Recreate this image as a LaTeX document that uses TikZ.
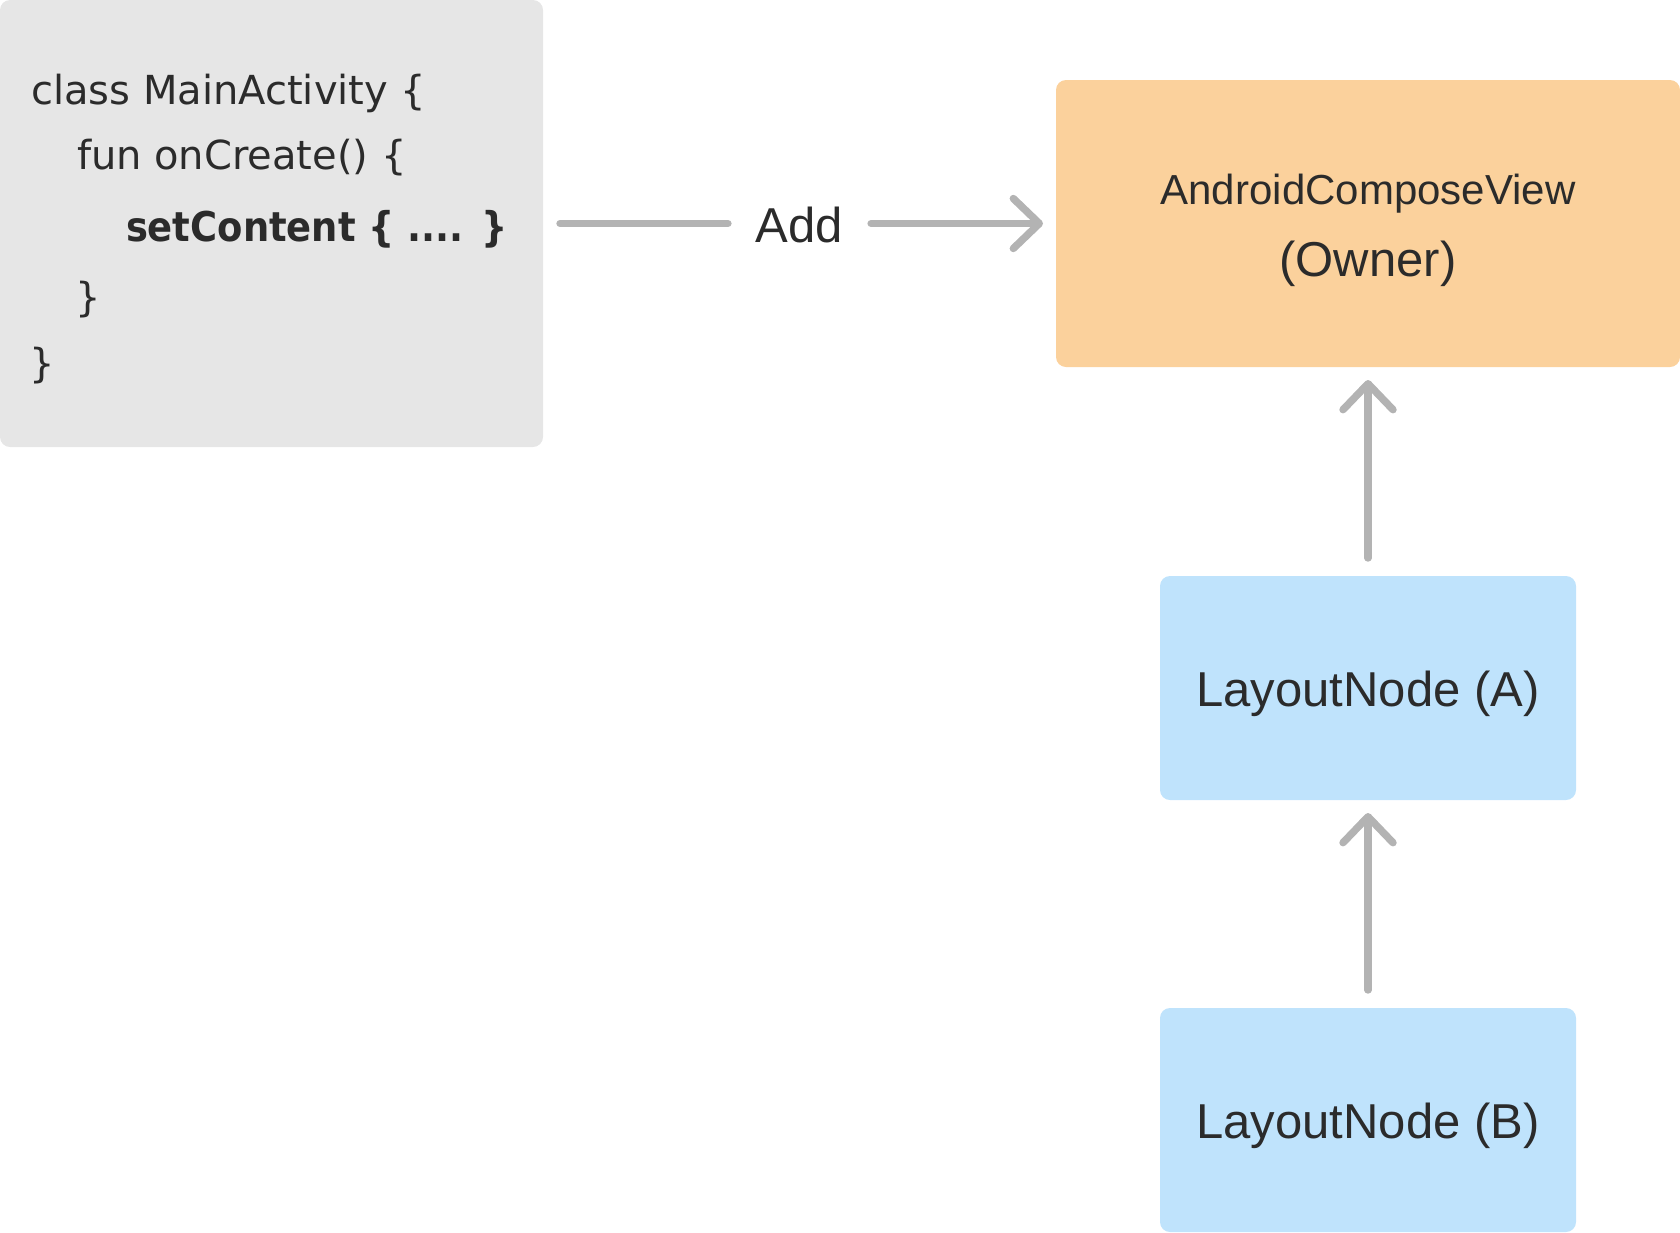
\documentclass[tikz,border=0pt]{standalone}
\usepackage{fontspec}
\setmainfont{Liberation Sans}
\newfontfamily\codefont{DejaVu Sans}
\newfontfamily\codeboldfont[FakeStretch=0.9]{DejaVu Sans}
\usetikzlibrary{arrows.meta}
\definecolor{codebg}{HTML}{E6E6E6}
\definecolor{ownerbg}{HTML}{FBD19C}
\definecolor{nodebg}{HTML}{BFE3FC}
\definecolor{arrowgray}{HTML}{B3B3B3}
\definecolor{textdark}{HTML}{2B2B2B}
\begin{document}
\begin{tikzpicture}[x=1pt,y=-1pt,
  every node/.style={inner sep=0pt,outer sep=0pt,text=textdark},
  panel/.style={rounded corners=10pt,draw=none},
  codebox/.style={panel,fill=codebg,minimum width=543pt,minimum height=447pt},
  ownerbox/.style={panel,fill=ownerbg,minimum width=624pt,minimum height=287pt},
  layoutbox/.style={panel,fill=nodebg,minimum width=416pt,minimum height=224pt,
    font=\fontsize{49pt}{58pt}\selectfont,text height=36pt,text depth=0pt},
  codeline/.style={anchor=base west,font=\codefont\fontsize{40pt}{48pt}\selectfont},
  codebold/.style={anchor=base west,font=\codeboldfont\bfseries\fontsize{41pt}{48pt}\selectfont},
  conn/.style={draw=arrowgray,line width=7.4pt,line cap=round},
  tipped/.style={conn,-{Straight Barb[length=26pt,width=50pt,round]}}]
\useasboundingbox (0,0) rectangle (1680,1232);

% boxes
\node[codebox] (code) at (271.5,223.5) {};
\node[ownerbox] (owner) at (1368,223.5) {};
\node[layoutbox] (A) at (1368,688) {LayoutNode (A)};
\node[layoutbox] (B) at (1368,1120) {LayoutNode (B)};

% code text
\node[codeline] (c1) at (31,104) {class MainActivity \{};
\node[codeline] (c2) at (77,169) {fun onCreate() \{};
\node[codebold] (c3) at (126,241) {setContent \{ .... \}};
\node[codeline] (c4) at (75,311) {\}};
\node[codeline] (c5) at (29,377) {\}};

% owner text
\node[anchor=base,font=\fontsize{42pt}{50pt}\selectfont] (ownertitle) at (1368,204) {AndroidComposeView};
\node[anchor=base,font=\fontsize{49pt}{58pt}\selectfont] (ownersub) at (1368,276) {(Owner)};

% Add label
\node[font=\fontsize{49pt}{58pt}\selectfont,text height=38pt,text depth=0pt,inner xsep=24.5pt] (add) at (799,223.5) {Add};

% connectors
\draw[conn,shorten <=17pt,shorten >=3pt] (code) -- (add);
\draw[tipped,shorten <=4pt,shorten >=13pt] (add) -- (owner);
\draw[tipped,shorten <=18pt,shorten >=13pt] (A) -- (owner);
\draw[tipped,shorten <=18pt,shorten >=13pt] (B) -- (A);
\end{tikzpicture}
\end{document}
